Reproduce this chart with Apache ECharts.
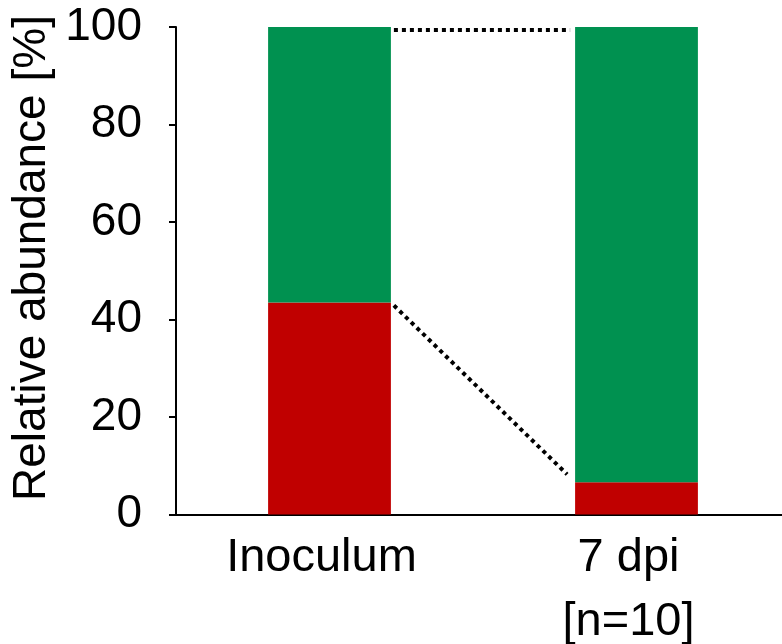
<!DOCTYPE html>
<html>
<head>
<meta charset="utf-8">
<script src="https://cdn.jsdelivr.net/npm/echarts@6/dist/echarts.min.js"></script>
<style>
html,body{margin:0;padding:0;background:#fff;overflow:hidden;}
#chart{width:782px;height:644px;}
</style>
</head>
<body>
<div id="chart"></div>
<script>
const categories = ['Inoculum', '7 dpi\n[n=10]'];
const redValues = [43.5, 6.6];
const greenValues = [56.5, 93.4];
const yTicks = [0, 20, 40, 60, 80, 100];

const stackTopRed = redValues.slice();
const stackTopGreen = redValues.map((v, i) => v + greenValues[i]);
const connectors = [
  [0, stackTopGreen[0], stackTopGreen[1]],
  [0, stackTopRed[0], stackTopRed[1]]
];
// pixel gaps at the ends of each connector (style only): [dx1, dy1, dx2, dy2]
const connectorGaps = [
  [3, 3, -5, 3],
  [3, 3, -8, -8]
];

const FONT = 'Liberation Sans, Arial, sans-serif';
const BAR_FRAC = 0.4;

const chart = echarts.init(document.getElementById('chart'));
chart.setOption({
  animation: false,
  backgroundColor: '#fff',
  grid: { left: 176, top: 27, right: -8, bottom: 129.5, containLabel: false, outerBoundsMode: 'none' },
  xAxis: {
    type: 'category',
    data: categories,
    axisLine: { lineStyle: { color: '#000', width: 2 } },
    axisTick: { alignWithLabel: true, length: 6, lineStyle: { color: '#000', width: 2 } },
    axisLabel: { color: '#000', fontFamily: FONT, fontSize: 47, lineHeight: 64, margin: 12, interval: 0, padding: [0, 16, 0, 0] }
  },
  yAxis: {
    type: 'value',
    min: 0, max: 100, interval: 20,
    splitLine: { show: false },
    axisLine: { show: true, lineStyle: { color: '#000', width: 2 } },
    axisTick: { show: true, length: 7, lineStyle: { color: '#000', width: 2 } },
    axisLabel: {
      color: '#000', fontFamily: FONT, fontSize: 46, margin: 34,
      formatter: v => (yTicks.indexOf(v) >= 0 ? String(v) : '')
    }
  },
  graphic: [{
    type: 'text',
    x: 32, y: 258,
    rotation: Math.PI / 2,
    style: {
      text: 'Relative abundance [%]',
      fill: '#000',
      font: '46px ' + FONT,
      textAlign: 'center',
      textVerticalAlign: 'middle'
    }
  }],
  series: [
    {
      name: 'red', type: 'bar', stack: 'a', data: redValues,
      barWidth: (BAR_FRAC * 100) + '%',
      itemStyle: { color: '#C00000' }
    },
    {
      name: 'green', type: 'bar', stack: 'a', data: greenValues,
      barWidth: (BAR_FRAC * 100) + '%',
      itemStyle: { color: '#009150' }
    },
    {
      name: 'connectors', type: 'custom',
      data: connectors,
      encode: { x: 0, y: [1, 2] },
      z: 5,
      renderItem: function (params, api) {
        const v0 = api.value(1), v1 = api.value(2);
        const p0 = api.coord([0, v0]);
        const p1 = api.coord([1, v1]);
        const half = api.size([1, 0])[0] * BAR_FRAC / 2;
        const g = connectorGaps[params.dataIndex];
        return {
          type: 'line',
          shape: { x1: p0[0] + half + g[0], y1: p0[1] + g[1], x2: p1[0] - half + g[2], y2: p1[1] + g[3] },
          style: { stroke: '#000', lineWidth: 4, lineDash: [4, 4], fill: null }
        };
      }
    }
  ]
});
</script>
</body>
</html>
